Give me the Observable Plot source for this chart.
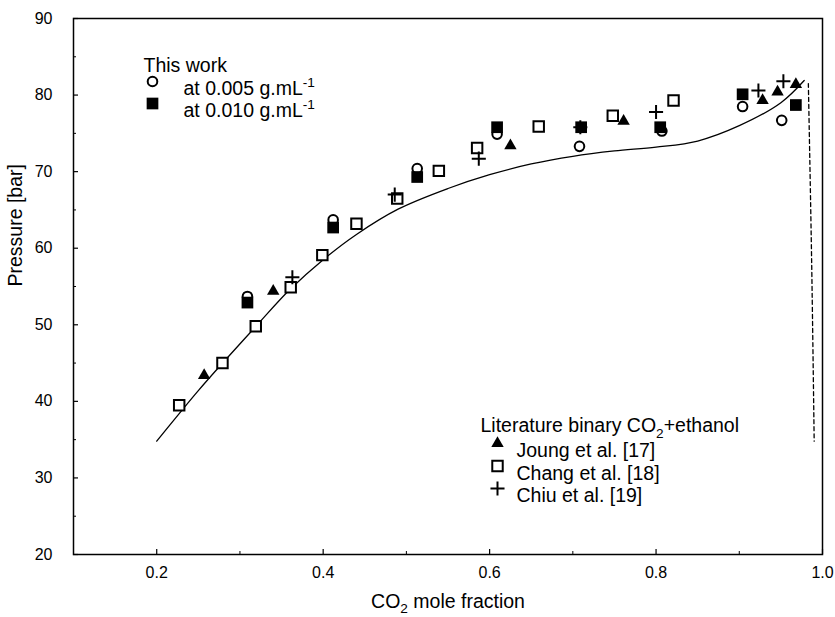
<!DOCTYPE html>
<html><head><meta charset="utf-8">
<script src="https://cdn.jsdelivr.net/npm/d3@7"></script>
<script src="https://cdn.jsdelivr.net/npm/@observablehq/plot@0.6"></script>
<style>
body{margin:0;background:#fff;}
#chart svg{display:block;}
</style></head><body><div id="chart"></div>
<script>
// ---- axis ticks ----
const xTicks = [0.2, 0.4, 0.6, 0.8, 1.0];
const xMinorTicks = [0.3, 0.5, 0.7, 0.9];
const yTicks = [20, 30, 40, 50, 60, 70, 80, 90];
const yMinorTicks = [25, 35, 45, 55, 65, 75, 85];

// ---- this work ----
const tw005X = [0.309, 0.412, 0.513, 0.609, 0.708, 0.807, 0.904, 0.951];
const tw005P = [53.7, 63.7, 70.4, 74.9, 73.3, 75.3, 78.5, 76.7];
const tw010X = [0.309, 0.412, 0.513, 0.609, 0.710, 0.805, 0.904, 0.968];
const tw010P = [52.9, 62.7, 69.3, 75.8, 75.8, 75.8, 80.1, 78.7];

// ---- literature ----
const joungX = [0.257, 0.340, 0.625, 0.761, 0.928, 0.946, 0.968];
const joungP = [43.4, 54.4, 73.4, 76.6, 79.3, 80.4, 81.4];
const changX = [0.227, 0.279, 0.319, 0.361, 0.399, 0.440, 0.489, 0.539, 0.585, 0.659, 0.748, 0.821];
const changP = [39.5, 45.0, 49.8, 54.9, 59.1, 63.2, 66.5, 70.1, 73.1, 75.9, 77.3, 79.3];
const chiuX = [0.363, 0.486, 0.587, 0.709, 0.800, 0.923, 0.953];
const chiuP = [56.2, 67.0, 71.7, 75.8, 77.8, 80.6, 81.8];

// ---- model curve (solid) and dashed branch ----
const curveX = [0.200, 0.227, 0.250, 0.280, 0.320, 0.360, 0.400, 0.440, 0.490, 0.550, 0.600, 0.650, 0.700, 0.750, 0.800, 0.850, 0.900, 0.950, 0.978];
const curveP = [34.8, 38.4, 41.4, 45.1, 49.9, 54.6, 58.5, 61.8, 65.1, 67.8, 69.6, 71.0, 72.0, 72.7, 73.2, 74.0, 76.0, 79.0, 81.9];
const dashX = [0.983, 0.987, 0.990];
const dashP = [81.5, 58.0, 34.8];

// ---- texts ----
const xLabel = "CO_{2} mole fraction";
const yLabel = "Pressure [bar]";
const legend1Title = "This work";
const legend1Items = ["at 0.005 g.mL^{-1}", "at 0.010 g.mL^{-1}"];
const legend2Title = "Literature binary CO_{2}+ethanol";
const legend2Items = ["Joung et al. [17]", "Chang et al. [18]", "Chiu et al. [19]"];

const FONT = "'Liberation Sans', Arial, Helvetica, sans-serif";
const zip = (xs, ps) => xs.map((x, i) => ({x, p: ps[i]}));

const styles = {
  c005: {symbol: "circle", r: 4.8, fill: "none", stroke: "black", strokeWidth: 2},
  s010: {symbol: "square", r: 6.6, fill: "black", stroke: "none"},
  joung: {symbol: "triangle", r: 4.6, fill: "black", stroke: "none"},
  chang: {symbol: "square", r: 5.9, fill: "white", stroke: "black", strokeWidth: 2},
  chiu: {symbol: "plus", r: 4.6, fill: "none", stroke: "black", strokeWidth: 2}
};
const leg1Styles = [styles.c005, styles.s010];
const leg2Styles = [styles.joung, styles.chang, styles.chiu];

const LEG = 19.5;
const marks = [
  Plot.line(zip(curveX, curveP), {x: "x", y: "p", curve: "catmull-rom", stroke: "black", strokeWidth: 1.3}),
  Plot.line(zip(dashX, dashP), {x: "x", y: "p", curve: "catmull-rom", stroke: "black", strokeWidth: 1.3, strokeDasharray: "4,3"}),
  Plot.dot(zip(changX, changP), {x: "x", y: "p", ...styles.chang}),
  Plot.dot(zip(joungX, joungP), {x: "x", y: "p", ...styles.joung}),
  Plot.dot(zip(chiuX, chiuP), {x: "x", y: "p", ...styles.chiu}),
  Plot.dot(zip(tw005X, tw005P), {x: "x", y: "p", ...styles.c005}),
  Plot.dot(zip(tw010X, tw010P), {x: "x", y: "p", ...styles.s010}),
  // axes: inward ticks + labels
  Plot.axisX(xTicks, {tickSize: -5, text: null, label: null, strokeWidth: 1.2}),
  Plot.axisX(xMinorTicks, {tickSize: -3, text: null, label: null, strokeWidth: 1}),
  Plot.axisX(xTicks, {tickSize: 0, tickPadding: 12, label: null, tickFormat: d3.format(".1f"), fontSize: 16}),
  Plot.axisY(yTicks, {tickSize: -5, text: null, label: null, strokeWidth: 1.2}),
  Plot.axisY(yMinorTicks, {tickSize: -3, text: null, label: null, strokeWidth: 1}),
  Plot.axisY(yTicks, {tickSize: 0, tickPadding: 21, label: null, tickFormat: d3.format("d"), fontSize: 16}),
  Plot.frame({stroke: "black", strokeWidth: 1.5}),
  // axis titles
  Plot.text([xLabel], {text: d => d, frameAnchor: "bottom", dy: 53, fontSize: 19.5}),
  Plot.text([yLabel], {text: d => d, frameAnchor: "left", dx: -58, rotate: -90, fontSize: 19.5}),
  // legend 1
  Plot.text([legend1Title], {text: d => d, frameAnchor: "top-left", dx: 70, dy: 40, textAnchor: "start", fontSize: LEG}),
  ...legend1Items.flatMap((lab, i) => [
    Plot.dot([lab], {frameAnchor: "top-left", dx: 79, dy: 63 + 22 * i, ...leg1Styles[i]}),
    Plot.text([lab], {text: d => d, frameAnchor: "top-left", dx: 110, dy: 63 + 22 * i, textAnchor: "start", fontSize: LEG})
  ]),
  // legend 2
  Plot.text([legend2Title], {text: d => d, frameAnchor: "top-left", dx: 407, dy: 400, textAnchor: "start", fontSize: LEG}),
  ...legend2Items.flatMap((lab, i) => [
    Plot.dot([lab], {frameAnchor: "top-left", dx: 424, dy: 425 + 22.5 * i, ...leg2Styles[i]}),
    Plot.text([lab], {text: d => d, frameAnchor: "top-left", dx: 443, dy: 425 + 22.5 * i, textAnchor: "start", fontSize: LEG})
  ])
];

const chart = Plot.plot({
  width: 835,
  height: 617,
  marginLeft: 73,
  marginRight: 13,
  marginTop: 18,
  marginBottom: 63,
  style: {fontFamily: FONT, fontSize: "16px", background: "white", color: "black"},
  x: {domain: [0.1, 1.0], axis: null},
  y: {domain: [20, 90], axis: null},
  marks
});
document.getElementById("chart").appendChild(chart);

// rich text: _{sub} and ^{sup}
function richText(root) {
  const ns = "http://www.w3.org/2000/svg";
  root.querySelectorAll("text").forEach(t => {
    const s = t.textContent;
    if (!/[_^]\{/.test(s)) return;
    const F = parseFloat(getComputedStyle(t).fontSize) || 16;
    t.textContent = "";
    let cur = 0;
    const add = (txt, shift, size) => {
      if (!txt) return;
      const ts = document.createElementNS(ns, "tspan");
      const d = shift - cur;
      if (d) ts.setAttribute("dy", d);
      if (size) ts.setAttribute("font-size", size);
      ts.textContent = txt;
      t.appendChild(ts);
      cur = shift;
    };
    const re = /([_^])\{([^}]*)\}/g;
    let last = 0, m;
    while ((m = re.exec(s))) {
      add(s.slice(last, m.index), 0);
      add(m[2], m[1] === "_" ? 0.3 * F : -0.42 * F, 0.7 * F);
      last = re.lastIndex;
    }
    add(s.slice(last), 0);
  });
}
richText(chart);
</script></body></html>
